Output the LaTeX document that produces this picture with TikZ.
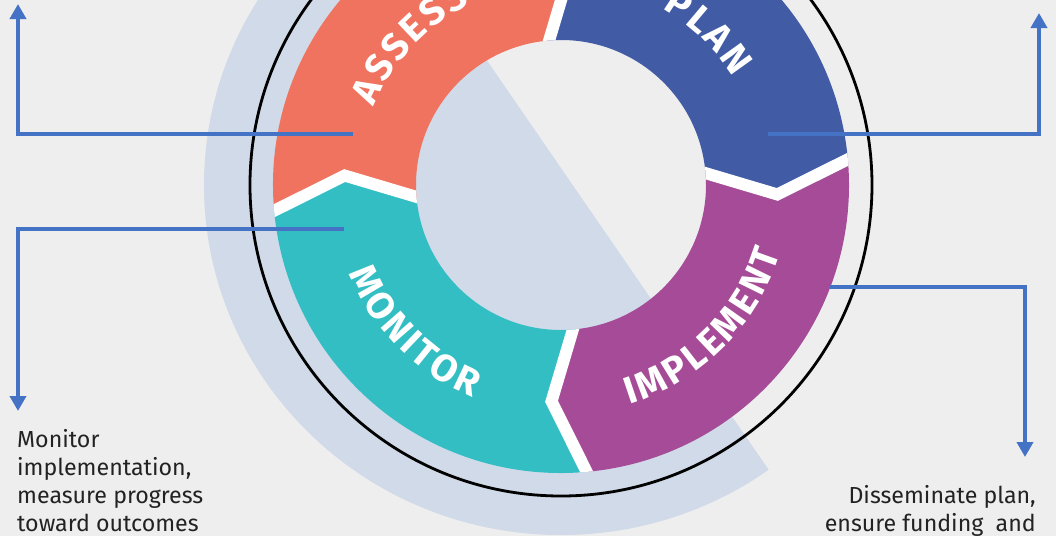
\documentclass[tikz,border=0pt]{standalone}
\usepackage{fontspec}
\setmainfont{Fira Sans}
\usepackage{tikz}
\usetikzlibrary{arrows.meta}
\usetikzlibrary{decorations.text}

\definecolor{bggray}{HTML}{EEEEEE}
\definecolor{bandblue}{HTML}{D0DAE8}
\definecolor{assesscolor}{HTML}{F07360}
\definecolor{plancolor}{HTML}{415BA5}
\definecolor{implementcolor}{HTML}{A64B97}
\definecolor{monitorcolor}{HTML}{33BEC4}
\definecolor{linkblue}{HTML}{4472C4}
\definecolor{notetext}{HTML}{222222}

\newcommand{\ringfont}{\fontsize{38}{38}\selectfont\bfseries\fontdimen2\font=3pt}

\begin{document}
\begin{tikzpicture}[x=1pt,y=1pt,
	link/.style={linkblue,line width=4.5,-{Triangle[width=16pt,length=15pt]}},
	gap/.style={white,line width=12,line join=miter},
	ringtext/.style={decorate,decoration={text along path,text align=center,text color=white,text={|\ringfont|#1}}},
	note/.style={inner sep=0,text=notetext,font=\fontsize{23.2}{28}\selectfont}]
	\useasboundingbox (-561,-351) rectangle (495,185);
	% Background %
	\fill [bggray] (-561,-351) rectangle (495,185);
	% Band %
	\begin{scope}
		\clip (-243,370) -- (267,-371) -- (-700,-371) -- (-700,370) -- cycle;
		\fill [bandblue] (0,0) ellipse [x radius=357,y radius=350];
	\end{scope}
	% Outer Ring %
	\draw [line width=2.8] (0,0) circle (311);
	% Segments %
	\foreach \a/\b/\c in {5.5/95.5/plancolor, 95.5/185.5/assesscolor, 185.5/275.5/monitorcolor, 275.5/365.5/implementcolor}
		\fill [\c] (\a:145) -- ({\a-8}:216.5) -- (\a:288) arc [start angle=\a,end angle=\b,radius=288] -- ({\b-8}:216.5) -- (\b:145) arc [start angle=\b,end angle=\a,radius=145] -- cycle;
	% Gaps %
	\begin{scope}[even odd rule]
		\clip (0,0) circle (288) (0,0) circle (145);
		\foreach \a in {5.5, 95.5, 185.5, 275.5}
			\draw [gap] (\a:140) -- ({\a-8}:216.5) -- (\a:293);
	\end{scope}
	% Labels %
	\path [ringtext={A S S E S S}] (172:203) arc [start angle=172,end angle=102,radius=203];
	\path [ringtext={P L A N}] (81:203) arc [start angle=81,end angle=11,radius=203];
	\path [ringtext={I M P L E M E N T}] (-80:230) arc [start angle=-80,end angle=-10,radius=230];
	\path [ringtext={M O N I T O R}] (190:230) arc [start angle=190,end angle=260,radius=230];
	% Links %
	\coordinate (assessend) at (-208,51);
	\coordinate (assesstip) at (-543,181);
	\coordinate (planend) at (207,51);
	\coordinate (plantip) at (478,172);
	\coordinate (monitorend) at (-217,-44);
	\coordinate (monitortip) at (-543,-226);
	\coordinate (implementend) at (269,-102);
	\coordinate (implementtip) at (464,-272);
	\draw [link] (assessend) -| (assesstip);
	\draw [link] (planend) -| (plantip);
	\draw [link] (monitorend) -| (monitortip);
	\draw [link] (implementend) -| (implementtip);
	% Notes %
	\node (monitornote) [note,anchor=north west,align=left] at (-544,-244) {Monitor\\implementation,\\measure progress\\toward outcomes};
	\node (implementnote) [note,anchor=north east,align=right] at (475,-300) {Disseminate plan,\\ensure funding\ \ and};
\end{tikzpicture}
\end{document}
